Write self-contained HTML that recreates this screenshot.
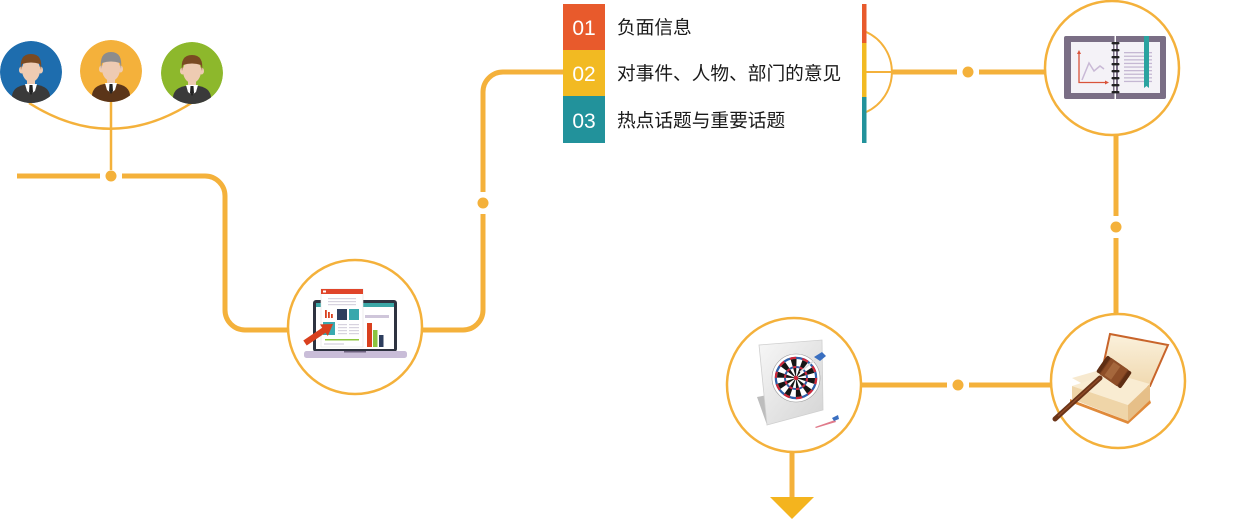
<!DOCTYPE html>
<html><head><meta charset="utf-8"><style>
html,body{margin:0;padding:0;background:#fff;}
svg{display:block;}
</style></head><body>
<svg width="1235" height="519" viewBox="0 0 1235 519" xmlns="http://www.w3.org/2000/svg">
<defs>
<clipPath id="pc"><circle cx="0" cy="0" r="31"/></clipPath>
<linearGradient id="panel" x1="0" y1="0" x2="1" y2="1">
<stop offset="0" stop-color="#f7f7f7"/><stop offset="1" stop-color="#d4d4d4"/></linearGradient>
<linearGradient id="page" x1="0" y1="0" x2="0" y2="1">
<stop offset="0" stop-color="#fbf1dc"/><stop offset="1" stop-color="#f0d9b0"/></linearGradient>
</defs>

<!-- ===== connectors ===== -->
<g fill="none" stroke="#F4B13B" stroke-linecap="butt">
<!-- people arc -->
<path d="M29,103 Q111,155 193,102" stroke-width="2.5"/>
<path d="M111,102 V170" stroke-width="2.5"/>
<!-- left line -->
<path d="M17,176 H100" stroke-width="5"/>
<path d="M122,176 H205 A20,20 0 0 1 225,196 V310 A20,20 0 0 0 245,330 H290" stroke-width="5"/>
<!-- laptop to boxes -->
<path d="M422,330 H463 A20,20 0 0 0 483,310 V214" stroke-width="5"/>
<path d="M483,192 V92 A20,20 0 0 1 503,72 H564" stroke-width="5"/>
<!-- semicircle + right -->
<path d="M866,31.9 A44,44 0 0 1 866,112.1" stroke-width="2"/>
<path d="M866,72 H892" stroke-width="2"/>
<path d="M892,72 H957" stroke-width="5"/>
<path d="M979,72 H1045" stroke-width="5"/>
<!-- right vertical -->
<path d="M1116,135 V216" stroke-width="5"/>
<path d="M1116,238 V315" stroke-width="5"/>
<!-- lower horizontal -->
<path d="M1052,385 H969" stroke-width="5"/>
<path d="M947,385 H861" stroke-width="5"/>
<!-- down -->
<path d="M792,452 V498" stroke-width="5"/>
</g>
<g fill="#F4B13B">
<circle cx="111" cy="176" r="5.5"/>
<circle cx="483" cy="203" r="5.5"/>
<circle cx="968" cy="72" r="5.5"/>
<circle cx="1116" cy="227" r="5.5"/>
<circle cx="958" cy="385" r="5.5"/>
<polygon points="770,497 814,497 792,519" fill="#F4B41E"/>
</g>

<!-- ===== people ===== -->
<g transform="translate(31,72)">
<g clip-path="url(#pc)">
<circle r="31" fill="#1E6DAE"/>
<path d="M-19,34 L-19,24 Q-18,15 -7,13 L7,13 Q18,15 19,24 L19,34Z" fill="#3a3a3a"/>
<rect x="-4" y="6" width="8" height="9" fill="#EECBB2"/>
<path d="M-6,12 L6,12 L4,19 L0,22 L-4,19Z" fill="#fff"/>
<path d="M-1.5,13 L1.5,13 L2,20 L0,23 L-2,20Z" fill="#222"/>
<ellipse cx="-9.5" cy="-2" rx="2.5" ry="3.5" fill="#EECBB2"/>
<ellipse cx="9.5" cy="-2" rx="2.5" ry="3.5" fill="#EECBB2"/>
<ellipse cx="0" cy="-2" rx="9" ry="12" fill="#EECBB2"/>
<path d="M-10,-2 Q-12,-18 0,-18 Q12,-18 10,-2 L9,-8 Q0,-11 -9,-8Z" fill="#7A4A22"/>
</g></g>
<g transform="translate(111,71)">
<g clip-path="url(#pc)">
<circle r="31" fill="#F4B13B"/>
<path d="M-19,34 L-19,24 Q-18,15 -7,13 L7,13 Q18,15 19,24 L19,34Z" fill="#5B3519"/>
<rect x="-4" y="6" width="8" height="9" fill="#EECBB2"/>
<path d="M-6,12 L6,12 L4,19 L0,22 L-4,19Z" fill="#fff"/>
<path d="M-1.5,13 L1.5,13 L2,20 L0,23 L-2,20Z" fill="#222"/>
<ellipse cx="-9.5" cy="-2" rx="2.5" ry="3.5" fill="#EECBB2"/>
<ellipse cx="9.5" cy="-2" rx="2.5" ry="3.5" fill="#EECBB2"/>
<ellipse cx="0" cy="-2" rx="9" ry="12" fill="#EECBB2"/>
<path d="M-10,-2 Q-12,-19 0,-19 Q12,-19 10,-2 L9,-8 Q0,-11 -9,-8Z" fill="#8C8C8C"/>
</g></g>
<g transform="translate(192,73)">
<g clip-path="url(#pc)">
<circle r="31" fill="#8DB82C"/>
<path d="M-19,34 L-19,24 Q-18,15 -7,13 L7,13 Q18,15 19,24 L19,34Z" fill="#3a3a3a"/>
<rect x="-4" y="6" width="8" height="9" fill="#EECBB2"/>
<path d="M-6,12 L6,12 L4,19 L0,22 L-4,19Z" fill="#fff"/>
<path d="M-1.5,13 L1.5,13 L2,20 L0,23 L-2,20Z" fill="#222"/>
<ellipse cx="-9.5" cy="-2" rx="2.5" ry="3.5" fill="#EECBB2"/>
<ellipse cx="9.5" cy="-2" rx="2.5" ry="3.5" fill="#EECBB2"/>
<ellipse cx="0" cy="-2" rx="9" ry="12" fill="#EECBB2"/>
<path d="M-10,-2 Q-12,-18 0,-18 Q12,-18 10,-2 L9,-8 Q0,-11 -9,-8Z" fill="#7A4A22"/>
</g></g>

<!-- ===== circles ===== -->
<g fill="#fff" stroke="#F4B13B" stroke-width="2.5">
<circle cx="355" cy="327" r="67"/>
<circle cx="1112" cy="68" r="67"/>
<circle cx="1118" cy="381" r="67"/>
<circle cx="794" cy="385" r="67"/>
</g>

<!-- ===== laptop icon ===== -->
<g>
<rect x="313" y="300" width="84" height="52" rx="3" fill="#2E3340"/>
<rect x="316" y="303" width="78" height="46" fill="#fff"/>
<rect x="316" y="303" width="78" height="4" fill="#3BA7A6"/>
<rect x="365" y="315" width="24" height="3" fill="#CFC6DA"/>
<rect x="367" y="323" width="5" height="24" fill="#D9401E"/>
<rect x="373" y="330" width="4.5" height="17" fill="#8CC43F"/>
<rect x="379" y="335" width="4.5" height="12" fill="#2D3E5E"/>
<rect x="304" y="351" width="103" height="7" rx="2.5" fill="#C9BDD8"/>
<rect x="344" y="351" width="22" height="1.5" fill="#6E6280"/>
<rect x="321" y="289" width="42" height="58" fill="#fff" stroke="#e2e2e2" stroke-width="0.6"/>
<rect x="321" y="289" width="42" height="5" fill="#E0452A"/>
<rect x="323" y="290.5" width="3" height="2" fill="#fff"/>
<g fill="#D7D3DF"><rect x="328" y="298" width="28" height="1.2"/><rect x="328" y="301" width="28" height="1.2"/><rect x="328" y="304" width="28" height="1.2"/></g>
<rect x="325" y="310" width="1.8" height="8" fill="#D9401E"/>
<rect x="328" y="312" width="1.8" height="6" fill="#D9401E"/>
<rect x="331" y="314" width="1.8" height="4" fill="#D9401E"/>
<rect x="337" y="309" width="10" height="11" fill="#2D3E5E"/>
<rect x="349" y="309" width="10" height="11" fill="#38A8AC"/>
<rect x="323" y="322" width="12" height="13" fill="#3AA9B0"/>
<g fill="#D7D3DF"><rect x="338" y="324" width="9" height="1.2"/><rect x="338" y="327" width="9" height="1.2"/><rect x="338" y="330" width="9" height="1.2"/><rect x="338" y="333" width="9" height="1.2"/>
<rect x="349" y="324" width="10" height="1.2"/><rect x="349" y="327" width="10" height="1.2"/><rect x="349" y="330" width="10" height="1.2"/><rect x="349" y="333" width="10" height="1.2"/></g>
<rect x="325" y="339" width="34" height="1.5" fill="#8DC63F"/>
<rect x="324" y="343" width="20" height="2" fill="#E5E2EA"/>
<polygon points="333,324 320,324.4 322.2,327.7 303.3,340.5 306.7,345.5 325.6,332.7 327.8,336" fill="#D9401E"/>
</g>

<!-- ===== notebook icon ===== -->
<g>
<rect x="1064" y="36" width="102" height="63" rx="2" fill="#7A6E85"/>
<rect x="1114.5" y="36" width="1.5" height="63" fill="#fff"/>
<rect x="1071" y="42" width="42" height="51" fill="#F4F2F7"/>
<rect x="1118" y="42" width="42" height="51" fill="#F4F2F7"/>
<path d="M1079,53 V82.5 H1107" fill="none" stroke="#D9533A" stroke-width="1.3"/>
<polygon points="1079,50 1077,54 1081,54" fill="#D9533A"/>
<polygon points="1109,82.5 1105,80.5 1105,84.5" fill="#D9533A"/>
<path d="M1082,80 L1089,63 L1094,71 L1100,66 L1104,69" fill="none" stroke="#C9B9D6" stroke-width="1.5"/>
<g fill="#C5B8D3">
<rect x="1124" y="52" width="28" height="1.3"/><rect x="1124" y="55.6" width="28" height="1.3"/><rect x="1124" y="59.2" width="28" height="1.3"/><rect x="1124" y="62.8" width="28" height="1.3"/><rect x="1124" y="66.4" width="28" height="1.3"/><rect x="1124" y="70" width="28" height="1.3"/><rect x="1124" y="73.6" width="28" height="1.3"/><rect x="1124" y="77.2" width="28" height="1.3"/><rect x="1124" y="80.8" width="28" height="1.3"/></g>
<path d="M1144,36 H1149 V88 L1146.5,86 L1144,88Z" fill="#2BA3A0"/>
<g fill="#222">
<rect x="1111.5" y="42" width="8" height="2.4" rx="1"/><rect x="1111.5" y="49" width="8" height="2.4" rx="1"/><rect x="1111.5" y="56" width="8" height="2.4" rx="1"/><rect x="1111.5" y="63" width="8" height="2.4" rx="1"/><rect x="1111.5" y="70" width="8" height="2.4" rx="1"/><rect x="1111.5" y="77" width="8" height="2.4" rx="1"/><rect x="1111.5" y="84" width="8" height="2.4" rx="1"/><rect x="1111.5" y="91" width="8" height="2.4" rx="1"/></g>
</g>

<!-- ===== dart icon ===== -->
<g>
<polygon points="757,397 767,425 786,419 778,393" fill="#BDBDBD"/>
<polygon points="759,345 822,340 823,410 767,425" fill="url(#panel)" stroke="#cfcfcf" stroke-width="0.8"/>
<circle cx="796" cy="378" r="24" fill="#fff" stroke="#999" stroke-width="0.6"/>
<circle cx="796" cy="378" r="20" fill="none" stroke="#2F5FA8" stroke-width="2.5"/>
<circle cx="796" cy="378" r="20" fill="none" stroke="#D0283A" stroke-width="2.5" stroke-dasharray="6.28 6.28"/>
<circle cx="796" cy="378" r="9.5" fill="none" stroke="#fff" stroke-width="19"/>
<circle cx="796" cy="378" r="9.5" fill="none" stroke="#151515" stroke-width="19" stroke-dasharray="2.985 2.985"/>
<circle cx="796" cy="378" r="11" fill="none" stroke="#2F5FA8" stroke-width="2"/>
<circle cx="796" cy="378" r="11" fill="none" stroke="#D0283A" stroke-width="2" stroke-dasharray="3.45 3.45"/>
<circle cx="796" cy="378" r="2.2" fill="#D0283A"/>
<line x1="800" y1="372" x2="816" y2="359" stroke="#ddd" stroke-width="1.5"/>
<polygon points="814,357 822,352 826,356 820,361" fill="#3A6FC0"/>
<polygon points="815,427 835,420 836,422 816,428" fill="#E07A8A"/>
<polygon points="832,418 838,415 839,419 834,421" fill="#3A6FC0"/>
</g>

<!-- ===== gavel icon ===== -->
<g>
<polygon points="1110,334 1168,345 1150,386 1100,380" fill="url(#page)" stroke="#C8642A" stroke-width="2"/>
<polygon points="1072,378 1100,370 1112,376 1090,388" fill="#F7E9CF"/>
<polygon points="1072,386 1112,373 1150,384 1128,405" fill="#F9ECD2"/>
<polygon points="1072,386 1128,405 1128,421 1072,399" fill="#EFD5A8"/>
<polygon points="1128,405 1150,384 1150,400 1128,421" fill="#E6BF88"/>
<polygon points="1070,399 1128,421 1150,400 1151,403 1128,424 1070,402" fill="#E08A3A"/>
<path d="M1100,378 L1055,419" stroke="#6B3418" stroke-width="5" stroke-linecap="round"/>
<path d="M1100,378 L1058,416" stroke="#8E4A26" stroke-width="1.5"/>
<g transform="rotate(35 1114 372)">
<rect x="1099" y="362" width="30" height="20" rx="5" fill="#7A3E1E"/>
<rect x="1104" y="362" width="20" height="20" fill="#8E4E28"/>
<rect x="1108" y="364" width="8" height="16" fill="#A5673C"/>
<rect x="1099" y="362" width="4" height="20" rx="2" fill="#5E2E14"/>
<rect x="1125" y="362" width="4" height="20" rx="2" fill="#5E2E14"/>
</g>
</g>

<!-- ===== list boxes ===== -->
<rect x="563" y="4" width="42" height="46" fill="#E85A2C"/>
<rect x="563" y="50" width="42" height="46" fill="#F2BA22"/>
<rect x="563" y="96" width="42" height="47" fill="#22929B"/>
<g font-family="Liberation Sans, sans-serif" font-size="21" fill="#fff" text-anchor="middle">
<text x="584" y="35">01</text>
<text x="584" y="81">02</text>
<text x="584" y="128">03</text>
</g>
<g font-family="Liberation Sans, 'Noto Sans CJK SC', sans-serif" font-size="18.7" fill="#1a1a1a">
<text x="617" y="34">负面信息</text>
<text x="617" y="80">对事件、人物、部门的意见</text>
<text x="617" y="127">热点话题与重要话题</text>
</g>
<rect x="862" y="4" width="4.5" height="39" fill="#E85A2C"/>
<rect x="862" y="43" width="4.5" height="54" fill="#F2BA22"/>
<rect x="862" y="97" width="4.5" height="46" fill="#22929B"/>
</svg>
</body></html>
